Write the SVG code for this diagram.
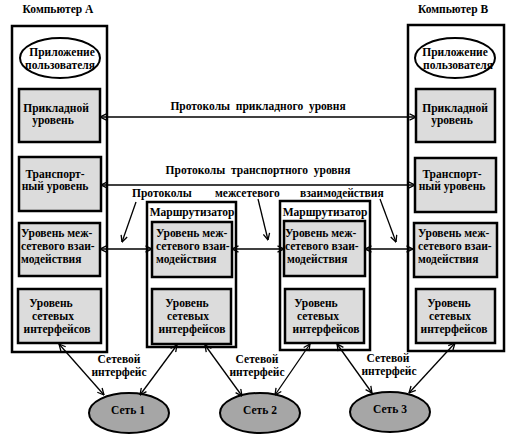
<svg xmlns="http://www.w3.org/2000/svg" width="517" height="443" viewBox="0 0 517 443">
<style>
text{font-family:"Liberation Serif","Times New Roman",serif;font-weight:bold;font-size:11.5px;fill:#000}
.m{text-anchor:middle}
.pre{white-space:pre}
.outer{fill:#fff;stroke:#000;stroke-width:2.5}
.box{fill:#dcdcdc;stroke:#000;stroke-width:2.5}
.app{fill:#fff;stroke:#000;stroke-width:2}
.net{fill:#a6a6a6;stroke:#000;stroke-width:2}
.c{stroke:#000;stroke-width:1.3;fill:none}
.d{marker-start:url(#ah);marker-end:url(#ah)}
.s{marker-end:url(#ah)}
</style>
<defs>
<marker id="ah" viewBox="0 0 8 8" refX="7.5" refY="4" markerWidth="8" markerHeight="8" markerUnits="userSpaceOnUse" orient="auto-start-reverse">
<path d="M1,0.8 L7.5,4 L1,7.2" fill="none" stroke="#000" stroke-width="1.3"/>
</marker>
</defs>

<g id="computerA">
<text class="m" x="58" y="13">Компьютер А</text>
<rect class="outer" x="12" y="26" width="95" height="326"/>
</g>
<g id="computerB">
<text class="m" x="453" y="13">Компьютер В</text>
<rect class="outer" x="408" y="25" width="96" height="326"/>
</g>
<g id="router1">
<rect class="outer" x="147" y="202" width="89" height="145"/>
<text class="m" x="192" y="216">Маршрутизатор</text>
</g>
<g id="router2">
<rect class="outer" x="280" y="201" width="90" height="149"/>
<text class="m" x="325" y="216">Маршрутизатор</text>
</g>

<g id="appA">
<ellipse class="app" cx="60" cy="58" rx="40" ry="20"/>
<text class="m" x="62" y="56">Приложение</text>
<text class="m" x="60" y="69">пользователя</text>
</g>
<g id="appB">
<ellipse class="app" cx="455" cy="58" rx="40" ry="20"/>
<text class="m" x="455" y="56">Приложение</text>
<text class="m" x="458" y="69">пользователя</text>
</g>

<g id="applA">
<rect class="box" x="19" y="89" width="81" height="53"/>
<text class="m" x="56" y="112">Прикладной</text>
<text class="m" x="53" y="124">уровень</text>
</g>
<g id="applB">
<rect class="box" x="416" y="89" width="79" height="53"/>
<text class="m" x="455" y="112">Прикладной</text>
<text class="m" x="452" y="124">уровень</text>
</g>

<g id="transA">
<rect class="box" x="19" y="157" width="82" height="54"/>
<text class="m" x="55" y="178">Транспорт-</text>
<text class="m" x="55" y="190">ный уровень</text>
</g>
<g id="transB">
<rect class="box" x="415" y="158" width="81" height="54"/>
<text class="m" x="452" y="178">Транспорт-</text>
<text class="m" x="452" y="190">ный уровень</text>
</g>

<g id="inetA">
<rect class="box" x="19" y="223" width="81" height="53"/>
<text x="21" y="237">Уровень меж-</text>
<text x="21" y="250">сетевого взаи-</text>
<text x="21" y="263">модействия</text>
</g>
<g id="inetR1">
<rect class="box" x="152" y="222" width="80" height="55"/>
<text x="156" y="237">Уровень меж-</text>
<text x="156" y="250">сетевого взаи-</text>
<text x="156" y="263">модействия</text>
</g>
<g id="inetR2">
<rect class="box" x="284" y="221" width="81" height="55"/>
<text x="285" y="237">Уровень меж-</text>
<text x="285" y="250">сетевого взаи-</text>
<text x="287" y="263">модействия</text>
</g>
<g id="inetB">
<rect class="box" x="414" y="223" width="83" height="54"/>
<text x="418" y="237">Уровень меж-</text>
<text x="418" y="250">сетевого взаи-</text>
<text x="418" y="263">модействия</text>
</g>

<g id="nifA">
<rect class="box" x="18" y="289" width="83" height="54"/>
<text class="m" x="51" y="307">Уровень</text>
<text class="m" x="53" y="320">сетевых</text>
<text class="m" x="57" y="333">интерфейсов</text>
</g>
<g id="nifR1">
<rect class="box" x="152" y="289" width="79" height="55"/>
<text class="m" x="187" y="307">Уровень</text>
<text class="m" x="188" y="320">сетевых</text>
<text class="m" x="192" y="333">интерфейсов</text>
</g>
<g id="nifR2">
<rect class="box" x="285" y="289" width="79" height="54"/>
<text class="m" x="316" y="307">Уровень</text>
<text class="m" x="318" y="320">сетевых</text>
<text class="m" x="326" y="333">интерфейсов</text>
</g>
<g id="nifB">
<rect class="box" x="416" y="289" width="79" height="54"/>
<text class="m" x="449" y="307">Уровень</text>
<text class="m" x="450" y="320">сетевых</text>
<text class="m" x="454" y="333">интерфейсов</text>
</g>

<g id="net1">
<ellipse class="net" cx="129" cy="413" rx="40" ry="20"/>
<text class="m" x="128" y="414">Сеть 1</text>
</g>
<g id="net2">
<ellipse class="net" cx="260" cy="413" rx="40" ry="20"/>
<text class="m" x="260" y="414">Сеть 2</text>
</g>
<g id="net3">
<ellipse class="net" cx="390" cy="412" rx="40" ry="20"/>
<text class="m" x="390" y="413">Сеть 3</text>
</g>

<g id="connectors">
<line class="c d" x1="100" y1="117" x2="416" y2="117"/>
<line class="c d" x1="101" y1="185" x2="415" y2="185"/>
<line class="c d" x1="100" y1="249" x2="152" y2="249"/>
<line class="c d" x1="232" y1="249" x2="284" y2="249"/>
<line class="c d" x1="365" y1="249" x2="413" y2="249"/>
<line class="c s" x1="136" y1="202" x2="122" y2="242"/>
<line class="c s" x1="258" y1="199" x2="268" y2="240"/>
<line class="c s" x1="380" y1="199" x2="396" y2="242"/>
<line class="c d" x1="59" y1="344" x2="104" y2="395"/>
<line class="c d" x1="177" y1="345" x2="140" y2="395"/>
<line class="c d" x1="205" y1="345" x2="242" y2="396"/>
<line class="c d" x1="310" y1="344" x2="275" y2="395"/>
<line class="c d" x1="337" y1="344" x2="372" y2="393"/>
<line class="c d" x1="455" y1="343" x2="409" y2="393"/>
</g>

<g id="labels">
<text class="m pre" x="258" y="110">Протоколы  прикладного  уровня</text>
<text class="m pre" x="258" y="174">Протоколы  транспортного  уровня</text>
<text x="132" y="197">Протоколы</text>
<text x="215" y="197">межсетевого</text>
<text x="300" y="197">взаимодействия</text>
<text class="m" x="119" y="363">Сетевой</text>
<text class="m" x="119" y="376">интерфейс</text>
<text class="m" x="257" y="363">Сетевой</text>
<text class="m" x="257" y="376">интерфейс</text>
<text class="m" x="388" y="362">Сетевой</text>
<text class="m" x="389" y="375">интерфейс</text>
</g>
</svg>
